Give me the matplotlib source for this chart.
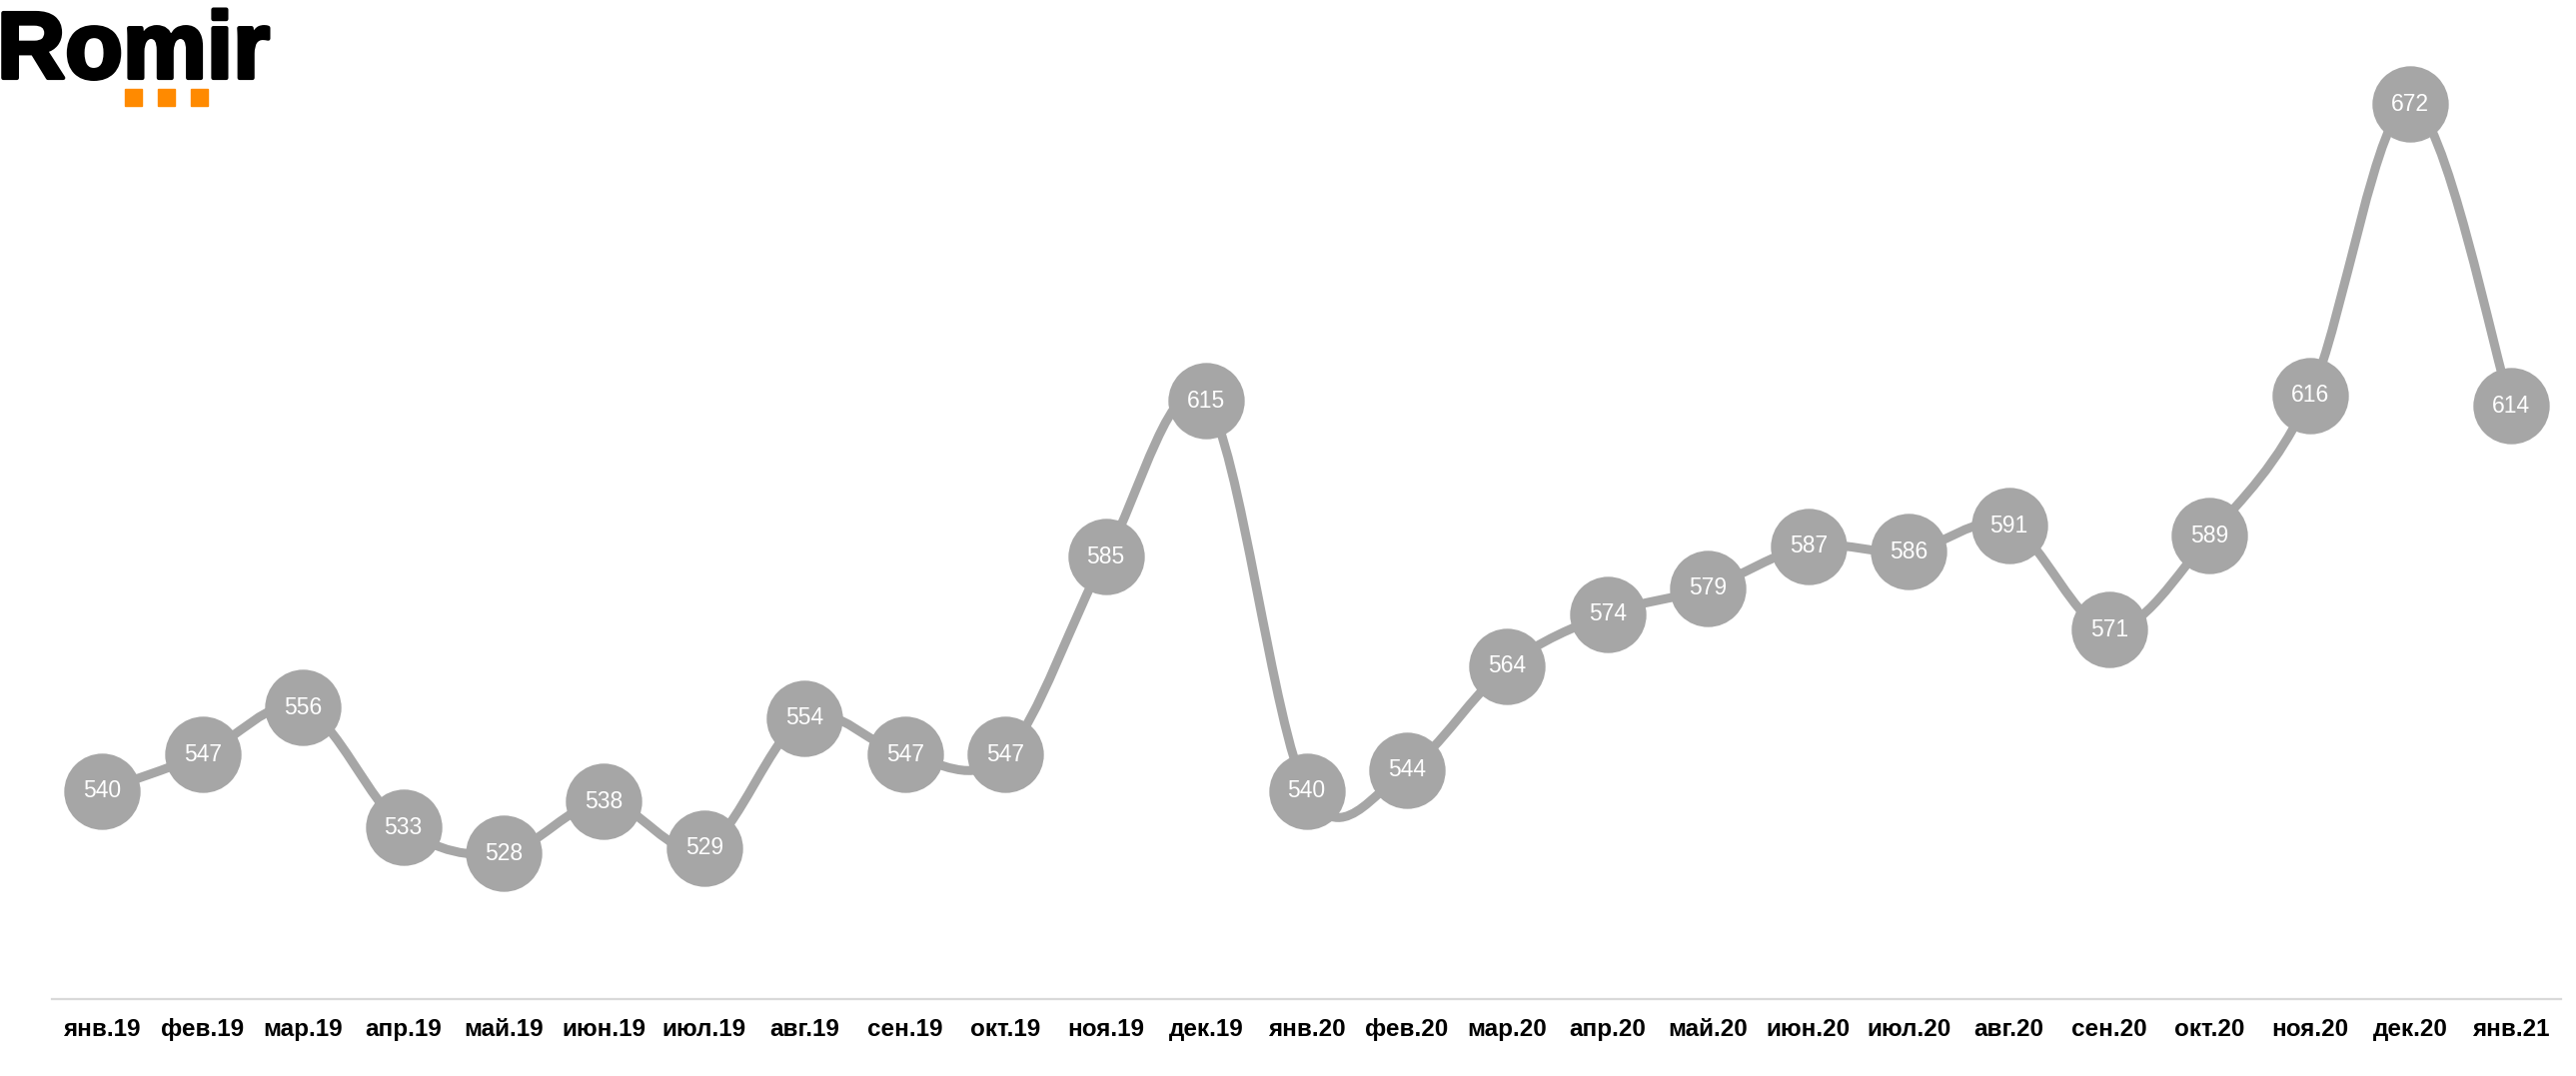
import numpy as np
import matplotlib.pyplot as plt
import matplotlib.patheffects as pe
from matplotlib.path import Path
from matplotlib.patches import PathPatch, Rectangle

# ---------- Data ----------
months = ["янв.19", "фев.19", "мар.19", "апр.19", "май.19", "июн.19", "июл.19",
          "авг.19", "сен.19", "окт.19", "ноя.19", "дек.19", "янв.20", "фев.20",
          "мар.20", "апр.20", "май.20", "июн.20", "июл.20", "авг.20", "сен.20",
          "окт.20", "ноя.20", "дек.20", "янв.21"]
values = [540, 547, 556, 533, 528, 538, 529, 554, 547, 547, 585, 615, 540,
          544, 564, 574, 579, 587, 586, 591, 571, 589, 616, 672, 614]

GREY = "#a6a6a6"
ORANGE = "#ff8a00"

plt.rcParams["font.family"] = ["Liberation Sans", "DejaVu Sans"]


def smooth_path(x, y):
    # Excel-style smoothed line: cubic bezier through every point
    n = len(x)
    pts = np.column_stack([x, y]).astype(float)
    verts = [pts[0]]
    codes = [Path.MOVETO]
    for i in range(n - 1):
        p0 = pts[i - 1] if i > 0 else pts[i]
        p1 = pts[i]
        p2 = pts[i + 1]
        p3 = pts[i + 2] if i + 2 < n else pts[i + 1]
        c1 = p1 + (p2 - p0) / 6.0
        c2 = p2 - (p3 - p1) / 6.0
        verts += [c1, c2, p2]
        codes += [Path.CURVE4] * 3
    return Path(verts, codes)


fig = plt.figure(figsize=(25.78, 10.77), dpi=100)
ax = fig.add_axes([52 / 2578, 77 / 1077, (2563 - 52) / 2578, 1000 / 1077])

x = np.arange(len(values))
ax.add_patch(PathPatch(smooth_path(x, values), facecolor="none", edgecolor=GREY,
                       lw=6.5, capstyle="round", zorder=2, clip_on=False))
ax.plot(x, values, linestyle="none", marker="o", markersize=55,
        markerfacecolor=GREY, markeredgecolor="none", zorder=3, clip_on=False)
for xi, v in zip(x, values):
    ax.text(xi, v, str(v), ha="center", va="center", color="white",
            fontsize=16.5, zorder=4)

ax.set_xlim(-0.5, len(values) - 0.5)
ax.set_ylim(500, 692)
ax.set_xticks(x)
ax.set_xticklabels(months, fontsize=17.5, fontweight="bold",
                   family=["Liberation Sans Narrow", "Liberation Sans", "DejaVu Sans"])
ax.tick_params(axis="x", length=0, pad=14)
ax.set_yticks([])
for s in ["top", "right", "left"]:
    ax.spines[s].set_visible(False)
ax.spines["bottom"].set_color("#d9d9d9")
ax.spines["bottom"].set_linewidth(1.6)

# Logo
fig.text(-3 / 2578, 1 - 78 / 1077, "Romir", fontsize=68, fontweight="bold",
         color="black", ha="left", va="baseline",
         path_effects=[pe.withStroke(linewidth=3, foreground="black")])
for sx in [125, 158, 191]:
    fig.patches.append(Rectangle((sx / 2578, 1 - 106 / 1077), 17 / 2578, 17 / 1077,
                                 transform=fig.transFigure, color=ORANGE))

fig.savefig("out.png", dpi=100)
